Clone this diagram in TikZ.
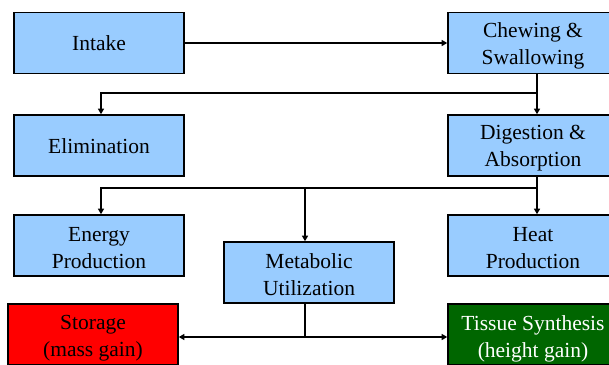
\documentclass[tikz,border=0pt]{standalone}
\usepackage{fontspec}
\setmainfont{Liberation Serif}
\usetikzlibrary{arrows.meta}
\definecolor{boxblue}{HTML}{99CCFF}
\definecolor{boxred}{HTML}{FF0000}
\definecolor{boxgreen}{HTML}{006600}
\begin{document}
\begin{tikzpicture}[x=1pt,y=-1pt,
  box/.style={draw=black, line width=1.6pt, fill=boxblue, minimum width=170pt, minimum height=61pt,
    inner sep=0pt},
  txt/.style={inner sep=0pt, align=center, font=\fontsize{21.5}{27}\selectfont},
  conn/.style={line width=1.6pt, black},
  arr/.style={conn, -{Triangle[length=5.5pt,width=6pt]}}]
\useasboundingbox (0,0) rectangle (609,364);
\clip (0,0) rectangle (609,364);
\node[box] (intake) at (99,43) {};
\node[box] (chew) at (533,43) {};
\node[box] (elim) at (99,145.5) {};
\node[box] (dig) at (533,145.5) {};
\node[box] (energy) at (99,245.5) {};
\node[box] (heat) at (533,245.5) {};
\node[box] (metab) at (309,272.5) {};
\node[box, fill=boxred] (storage) at (93,334.5) {};
\node[box, fill=boxgreen] (tissue) at (533,334.5) {};
\node[txt] (intake-t) at ([yshift=-0.5pt]intake.center) {Intake};
\node[txt] (chew-t) at ([yshift=-2.5pt]chew.center) {Chewing \&\\Swallowing};
\node[txt] (elim-t) at ([yshift=-1pt]elim.center) {Elimination};
\node[txt] (dig-t) at ([yshift=-2.5pt]dig.center) {Digestion \&\\Absorption};
\node[txt] (energy-t) at ([yshift=-2.5pt]energy.center) {Energy\\Production};
\node[txt] (heat-t) at ([yshift=-2.5pt]heat.center) {Heat\\Production};
\node[txt] (metab-t) at ([yshift=-2.5pt]metab.center) {Metabolic\\Utilization};
\node[txt] (storage-t) at ([yshift=-4pt]storage.center) {Storage\\(mass gain)};
\node[txt, text=white] (tissue-t) at ([yshift=-4pt]tissue.center) {Tissue Synthesis\\(height gain)};
\coordinate (j1) at (537,93);
\coordinate (c1) at (101,93);
\coordinate (j2) at (537,188);
\coordinate (c2) at (101,188);
\coordinate (m2) at (305,188);
\coordinate (j3) at (305,337);
\draw[arr] (intake.east) -- (chew.west);
\draw[arr] (chew.south -| j1) -- (dig.north -| j1);
\draw[arr] (j1) -- (c1) -- (elim.north -| c1);
\draw[arr] (dig.south -| j2) -- (heat.north -| j2);
\draw[arr] (j2) -- (c2) -- (energy.north -| c2);
\draw[arr] (m2) -- (metab.north -| m2);
\draw[conn] (metab.south -| j3) -- (j3);
\draw[arr] (j3) -- (storage.east |- j3);
\draw[arr] (j3) -- (tissue.west |- j3);
\end{tikzpicture}
\end{document}
